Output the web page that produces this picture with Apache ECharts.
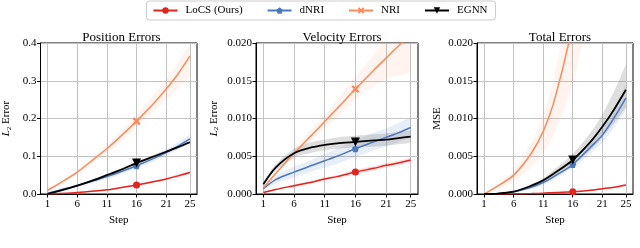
<!DOCTYPE html>
<html><head><meta charset="utf-8">
<script src="https://cdn.jsdelivr.net/npm/echarts@6/dist/echarts.min.js"></script>
<style>html,body{margin:0;padding:0;background:#fff}#c{width:640px;height:248px}</style>
</head><body><div id="c"></div>
<script>
// ---------- data ----------
const steps = [1, 3, 6, 9, 11, 13, 16, 19, 21, 23, 25];
const xTicks = [1, 6, 11, 16, 21, 25];
const seriesNames = ['LoCS (Ours)', 'dNRI', 'NRI', 'EGNN'];
const panelTitles = ['Position Errors', 'Velocity Errors', 'Total Errors'];
const yMax = [0.4, 0.02, 0.02];
const yStep = [0.1, 0.005, 0.005];
const yDecimals = [1, 3, 3];

// Position errors
const posLoCS   = [0.000, 0.001, 0.004, 0.008, 0.011, 0.016, 0.024, 0.033, 0.040, 0.048, 0.057];
const posLoCSLo = [0.000, 0.000, 0.003, 0.006, 0.009, 0.014, 0.021, 0.030, 0.037, 0.044, 0.053];
const posLoCSHi = [0.001, 0.002, 0.005, 0.010, 0.013, 0.018, 0.027, 0.036, 0.043, 0.052, 0.061];
const posDNRI   = [0.002, 0.010, 0.022, 0.036, 0.046, 0.057, 0.075, 0.095, 0.110, 0.127, 0.146];
const posDNRILo = [0.001, 0.008, 0.019, 0.031, 0.040, 0.050, 0.068, 0.087, 0.101, 0.117, 0.135];
const posDNRIHi = [0.003, 0.012, 0.025, 0.041, 0.052, 0.064, 0.082, 0.104, 0.119, 0.137, 0.157];
const posNRI    = [0.010, 0.028, 0.058, 0.095, 0.120, 0.148, 0.193, 0.242, 0.278, 0.318, 0.365];
const posNRILo  = [0.007, 0.024, 0.052, 0.086, 0.108, 0.134, 0.175, 0.220, 0.250, 0.280, 0.310];
const posNRIHi  = [0.013, 0.032, 0.064, 0.104, 0.131, 0.162, 0.210, 0.265, 0.305, 0.350, 0.400];
const posEGNN   = [0.000, 0.008, 0.022, 0.038, 0.050, 0.062, 0.082, 0.100, 0.112, 0.124, 0.137];
const posEGNNLo = [0.000, 0.007, 0.020, 0.035, 0.047, 0.059, 0.078, 0.096, 0.108, 0.120, 0.133];
const posEGNNHi = [0.001, 0.009, 0.024, 0.041, 0.053, 0.065, 0.086, 0.104, 0.116, 0.128, 0.141];

// Velocity errors
const velLoCS   = [0.0002, 0.0006, 0.0011, 0.0016, 0.0020, 0.0023, 0.0029, 0.0034, 0.0038, 0.0041, 0.0045];
const velLoCSLo = [0.0001, 0.0005, 0.0009, 0.0014, 0.0018, 0.0021, 0.0026, 0.0031, 0.0035, 0.0038, 0.0042];
const velLoCSHi = [0.0003, 0.0007, 0.0013, 0.0018, 0.0022, 0.0025, 0.0032, 0.0037, 0.0041, 0.0044, 0.0048];
const velDNRI   = [0.0007, 0.0019, 0.0029, 0.0038, 0.0044, 0.0050, 0.0060, 0.0069, 0.0075, 0.0081, 0.0088];
const velDNRILo = [0.0005, 0.0014, 0.0022, 0.0030, 0.0035, 0.0040, 0.0049, 0.0058, 0.0063, 0.0069, 0.0075];
const velDNRIHi = [0.0009, 0.0024, 0.0036, 0.0046, 0.0053, 0.0060, 0.0071, 0.0081, 0.0087, 0.0094, 0.0101];
const velNRI    = [0.0008, 0.0027, 0.0054, 0.0079, 0.0096, 0.0113, 0.0139, 0.0164, 0.0180, 0.0196, 0.0212];
const velNRILo  = [0.0007, 0.0025, 0.0049, 0.0072, 0.0087, 0.0101, 0.0125, 0.0143, 0.0152, 0.0157, 0.0162];
const velNRIHi  = [0.0009, 0.0029, 0.0059, 0.0087, 0.0105, 0.0125, 0.0155, 0.0185, 0.0208, 0.0230, 0.0250];
const velEGNN   = [0.0013, 0.0035, 0.0054, 0.0062, 0.0065, 0.0067, 0.0069, 0.0071, 0.0072, 0.0074, 0.0076];
const velEGNNLo = [0.0011, 0.0031, 0.0048, 0.0055, 0.0058, 0.0060, 0.0062, 0.0063, 0.0064, 0.0066, 0.0068];
const velEGNNHi = [0.0015, 0.0039, 0.0060, 0.0069, 0.0072, 0.0075, 0.0077, 0.0079, 0.0080, 0.0082, 0.0084];

// Total errors
const totLoCS   = [0.0000, 0.0000, 0.00002, 0.00005, 0.0001, 0.0002, 0.0003, 0.0005, 0.0007, 0.0009, 0.0012];
const totLoCSLo = [0.0000, 0.0000, 0.00001, 0.00004, 0.00008, 0.00016, 0.00025, 0.0004, 0.0006, 0.0008, 0.0010];
const totLoCSHi = [0.0000, 0.0000, 0.00003, 0.00006, 0.00012, 0.00024, 0.00035, 0.0006, 0.0008, 0.0010, 0.0014];
const totDNRI   = [0.0000, 0.00003, 0.0003, 0.0009, 0.0015, 0.0024, 0.0039, 0.0062, 0.0078, 0.0101, 0.0127];
const totDNRILo = [0.0000, 0.00002, 0.0002, 0.0007, 0.0012, 0.0020, 0.0034, 0.0054, 0.0068, 0.0088, 0.0111];
const totDNRIHi = [0.0000, 0.00004, 0.0004, 0.0011, 0.0018, 0.0028, 0.0045, 0.0070, 0.0089, 0.0115, 0.0145];
const totNRI    = [0.0000, 0.0009, 0.0025, 0.0054, 0.0083, 0.0127, 0.0225, 0.0360, 0.0460, 0.0570, 0.0690];
const totNRILo  = [0.0000, 0.0006, 0.0016, 0.0036, 0.0055, 0.0083, 0.0145, 0.0250, 0.0310, 0.0390, 0.0470];
const totNRIHi  = [0.0000, 0.0011, 0.0032, 0.0068, 0.0105, 0.0160, 0.0285, 0.0460, 0.0580, 0.0720, 0.0870];
const totEGNN   = [0.0000, 0.00003, 0.0003, 0.0011, 0.0018, 0.0028, 0.0045, 0.0069, 0.0089, 0.0112, 0.0138];
const totEGNNLo = [0.0000, 0.00002, 0.0002, 0.0009, 0.0015, 0.0023, 0.0039, 0.0058, 0.0075, 0.0094, 0.0115];
const totEGNNHi = [0.0000, 0.00004, 0.0004, 0.0013, 0.0021, 0.0033, 0.0053, 0.0081, 0.0105, 0.0136, 0.0172];

// ---------- styling ----------
const FONT = 'Liberation Serif';
const colors = ['#e3241f', '#4a78c0', '#fb8a5a', '#000000'];
const bandColors = ['#e3241f', '#4a78c0', '#fb8a5a', '#6a6a6a'];
const bandOpacity = [0.12, 0.13, 0.09, 0.22];
const symbols = [
  'circle',
  'path://M0,-1 L0.951,-0.309 L0.588,0.809 L-0.588,0.809 L-0.951,-0.309 Z',
  'path://M-1,-0.6 L-0.6,-1 L0,-0.4 L0.6,-1 L1,-0.6 L0.4,0 L1,0.6 L0.6,1 L0,0.4 L-0.6,1 L-1,0.6 L-0.4,0 Z',
  'path://M-1,-0.8 L1,-0.8 L0,1 Z'
];
const symbolSizes = [7, 7, 8, 9];
const markIdx = steps.indexOf(16);
const SMOOTH = 0.3;

const panels = [
  {mean:[posLoCS,posDNRI,posNRI,posEGNN], lo:[posLoCSLo,posDNRILo,posNRILo,posEGNNLo], hi:[posLoCSHi,posDNRIHi,posNRIHi,posEGNNHi]},
  {mean:[velLoCS,velDNRI,velNRI,velEGNN], lo:[velLoCSLo,velDNRILo,velNRILo,velEGNNLo], hi:[velLoCSHi,velDNRIHi,velNRIHi,velEGNNHi]},
  {mean:[totLoCS,totDNRI,totNRI,totEGNN], lo:[totLoCSLo,totDNRILo,totNRILo,totEGNNLo], hi:[totLoCSHi,totDNRIHi,totNRIHi,totEGNNHi]}
];

const gridsPos = [
  {left: 36, top: 43, width: 161, height: 151},
  {left: 256, top: 43, width: 162, height: 151},
  {left: 477, top: 43, width: 156, height: 151}
];
const yNameGap = [28, 36, 34];

const txt = {color: '#000', fontFamily: FONT, fontSize: 11};

const grid = gridsPos.map(g => Object.assign({show: true, borderColor: '#000', borderWidth: 1, containLabel: false}, g));
const title = panelTitles.map((t, i) => ({
  text: t, left: gridsPos[i].left + gridsPos[i].width / 2, top: 26, textAlign: 'center',
  textStyle: {color: '#000', fontFamily: FONT, fontSize: 13, fontWeight: 'normal'}
}));

const xAxis = panels.map((p, i) => ({
  type: 'value', gridIndex: i, min: -0.2, max: 26.2,
  axisLine: {show: true, onZero: false, lineStyle: {color: '#000', width: 1}},
  axisTick: {show: true, customValues: xTicks, length: 3.5, lineStyle: {color: '#000'}},
  axisLabel: Object.assign({customValues: xTicks, margin: 5}, txt),
  splitLine: {show: true, lineStyle: {color: '#c2c2c2', width: 1}},
  name: 'Step', nameLocation: 'middle', nameGap: 21, nameTextStyle: txt
}));

const yAxis = panels.map((p, i) => ({
  type: 'value', gridIndex: i, min: 0, max: yMax[i], interval: yStep[i],
  axisLine: {show: true, onZero: false, lineStyle: {color: '#000', width: 1}},
  axisTick: {show: true, length: 3.5, lineStyle: {color: '#000'}},
  axisLabel: Object.assign({margin: 4, formatter: v => v.toFixed(yDecimals[i])}, txt),
  splitLine: {show: true, lineStyle: {color: '#c2c2c2', width: 1}},
  name: i === 2 ? 'MSE' : '{i|L}{s|2} Error',
  nameLocation: 'middle', nameGap: yNameGap[i], nameRotate: 90,
  nameTextStyle: Object.assign({}, txt, {
    rich: {
      i: {fontFamily: FONT, fontSize: 11, fontStyle: 'italic', color: '#000'},
      s: {fontFamily: FONT, fontSize: 7, color: '#000', padding: [5, 0, 0, 0]}
    }
  })
}));

// smooth path through pixel points (Catmull-Rom -> cubic Bezier)
function curveSegs(pts, first) {
  let d = first ? 'M' + pts[0][0] + ',' + pts[0][1] : 'L' + pts[0][0] + ',' + pts[0][1];
  for (let j = 0; j < pts.length - 1; j++) {
    const p0 = pts[Math.max(j - 1, 0)], p1 = pts[j], p2 = pts[j + 1], p3 = pts[Math.min(j + 2, pts.length - 1)];
    const c1 = [p1[0] + (p2[0] - p0[0]) / 6, p1[1] + (p2[1] - p0[1]) / 6];
    const c2 = [p2[0] - (p3[0] - p1[0]) / 6, p2[1] - (p3[1] - p1[1]) / 6];
    d += 'C' + c1[0] + ',' + c1[1] + ' ' + c2[0] + ',' + c2[1] + ' ' + p2[0] + ',' + p2[1];
  }
  return d;
}

const series = [];
panels.forEach((p, i) => {
  for (let k = 0; k < 4; k++) {
    const lo = p.lo[k], hi = p.hi[k];
    series.push({
      type: 'custom', xAxisIndex: i, yAxisIndex: i, clip: true, silent: true, z: 1,
      data: [[steps[0], 0]],
      renderItem: (params, api) => {
        const top = steps.map((s, j) => api.coord([s, hi[j]]));
        const bot = steps.map((s, j) => api.coord([s, lo[j]])).reverse();
        const d = curveSegs(top, true) + curveSegs(bot, false) + 'Z';
        return {type: 'path', shape: {pathData: d}, style: {fill: bandColors[k], opacity: bandOpacity[k]}};
      }
    });
  }
});
panels.forEach((p, i) => {
  for (let k = 0; k < 4; k++) {
    series.push({
      type: 'line', name: seriesNames[k], xAxisIndex: i, yAxisIndex: i, z: 3 + k,
      smooth: SMOOTH, clip: true,
      symbol: symbols[k], symbolSize: symbolSizes[k], showSymbol: true, showAllSymbol: true,
      lineStyle: {color: colors[k], width: k === 3 ? 1.8 : 1.5},
      itemStyle: {color: colors[k], borderColor: colors[k], borderWidth: 0, opacity: 1},
      emphasis: {disabled: true},
      data: steps.map((s, j) => j === markIdx ? {value: [s, p.mean[k][j]]} : {value: [s, p.mean[k][j]], symbol: 'none'})
    });
  }
});

const chart = echarts.init(document.getElementById('c'), null, {renderer: 'canvas'});
chart.setOption({
  animation: false,
  backgroundColor: '#fff',
  title,
  legend: {
    data: seriesNames, left: 'center', top: 1,
    itemWidth: 24, itemHeight: 8, itemGap: 24,
    padding: [4, 8, 4, 6],
    borderColor: '#cccccc', borderWidth: 1, borderRadius: 3,
    textStyle: Object.assign({}, txt, {padding: [0, 0, 0, 3]})
  },
  grid, xAxis, yAxis, series
});
</script>
</body></html>
